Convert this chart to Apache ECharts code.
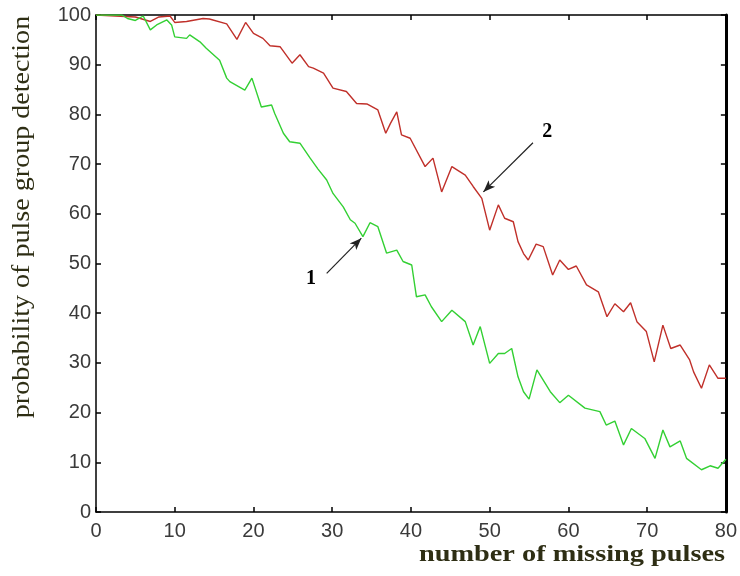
<!DOCTYPE html>
<html>
<head>
<meta charset="utf-8">
<script src="https://cdn.jsdelivr.net/npm/echarts@6/dist/echarts.min.js"></script>
<style>
  html, body { margin: 0; padding: 0; background: #fff; }
  #chart { width: 740px; height: 576px; }
</style>
</head>
<body>
<div id="chart"></div>
<script>
// Curve 1 (green): detection probability vs. number of missing pulses
const curve1X = [0,3.3,4,5,6,6.9,7.7,9,9.6,10,11.5,11.9,13.2,14,15.7,16.6,17,18.9,19.8,21,
  22.3,22.7,23.8,24.6,25.9,27.2,28.2,29.3,30.1,31.4,32.3,32.9,33.9,34.8,35.8,36.9,38.2,39,40.1,40.7,
  41.8,42.6,43.9,45.2,46.9,47.9,48.8,50,51.1,51.9,52.8,53.6,54.3,55,56,57.7,58.9,60,62.1,64,
  64.8,65.9,67,68,69.7,71,72,72.9,74.2,75,76.9,78,79,80];
const curve1Y = [100,100,99.3,98.9,99.8,97,98,99,98,95.6,95.3,96,94.6,93.3,90.9,87.3,86.6,84.9,87.3,81.5,
  81.9,80.2,76.2,74.5,74.2,71.2,69,66.8,64.1,61.4,58.8,58.1,55.4,58.2,57.4,52.1,52.7,50.4,49.7,43.3,
  43.7,41.3,38.3,40.6,38.3,33.6,37.3,29.9,31.9,31.9,32.9,27.2,24.2,22.7,28.6,24.2,22,23.5,20.9,20.2,
  17.5,18.3,13.5,16.8,14.8,10.8,16.5,13.1,14.3,10.8,8.5,9.3,8.8,10.6];

// Curve 2 (red)
const curve2X = [0,5,6.9,8,9.4,10,11.5,13.6,14.4,16.6,17.9,19,20,21.2,22.1,23.4,24.9,25.9,27,27.6,
  28.9,30.1,31.8,33.1,34.4,35.8,36.8,37.4,38.2,38.8,39.9,41.8,42.8,43.9,45.2,46.9,47.9,49,50,51.1,
  51.9,53,53.6,54.3,54.9,55.9,56.8,58,58.9,60,61,62.3,63.8,64.9,65.9,67,67.9,68.7,69.9,70.9,
  72,73,74.2,75.4,75.9,76.9,77.9,79,80];
const curve2Y = [100,99.6,98.7,99.6,99.8,98.5,98.7,99.3,99.2,98.2,95.1,98.5,96.3,95.3,93.8,93.6,90.3,92,89.6,89.3,
  88.3,85.3,84.6,82.2,82.1,80.9,76.2,78.2,80.5,75.9,75.2,69.5,71.2,64.4,69.5,67.8,65.5,63.1,56.7,61.8,
  59.1,58.4,54.4,52,50.7,53.9,53.4,47.7,50.7,48.8,49.5,45.7,44.3,39.3,41.9,40.3,42.1,38.3,36.3,30.2,
  37.6,32.9,33.6,30.6,28.2,24.9,29.6,26.9,26.9];

// Pointer annotations: label, tail point, head point, label anchor
const pointer1 = { text: '1', from: [29.3, 48.0], to: [33.7, 55.1], labelAt: [27.3, 47.0] };
const pointer2 = { text: '2', from: [55.5, 74.3], to: [49.2, 64.4], labelAt: [57.3, 76.4] };

const xTicks = [0, 80, 10];   // min, max, interval
const yTicks = [0, 100, 10];

const zip = (xs, ys) => xs.map((x, i) => [x, ys[i]]);

const tickFont = { fontFamily: 'Liberation Sans, Arial, sans-serif', fontSize: 20, color: '#3a3a3a' };
const axisLine = { show: true, onZero: false, lineStyle: { color: '#000', width: 1.5 } };
const tick = { show: true, inside: true, length: 5, lineStyle: { color: '#000', width: 1.5 } };
const serif = '"Liberation Serif", "Times New Roman", serif';

const chart = echarts.init(document.getElementById('chart'), null, { renderer: 'canvas' });

function pointerLine(p) {
  return [
    { coord: p.from, symbol: 'none' },
    { coord: p.to, symbol: 'arrow', symbolSize: [7, 12] }
  ];
}

function pointerLabel(p) {
  return {
    symbol: 'circle', symbolSize: 1, itemStyle: { color: 'rgba(0,0,0,0)' },
    label: { show: true, color: '#000', fontFamily: serif, fontSize: 20, fontWeight: 'bold', formatter: p.text },
    data: [{ coord: p.labelAt }]
  };
}

chart.setOption({
  animation: false,
  backgroundColor: '#fff',
  grid: { left: 96, right: 14, top: 15, bottom: 64 },
  xAxis: [
    {
      type: 'value', min: xTicks[0], max: xTicks[1], interval: xTicks[2],
      position: 'bottom', axisLine, axisTick: tick, splitLine: { show: false },
      axisLabel: Object.assign({ margin: 9 }, tickFont)
    },
    {
      type: 'value', min: xTicks[0], max: xTicks[1], interval: xTicks[2],
      position: 'top', axisLine, axisTick: tick, splitLine: { show: false },
      axisLabel: { show: false }
    }
  ],
  yAxis: [
    {
      type: 'value', min: yTicks[0], max: yTicks[1], interval: yTicks[2],
      position: 'left', axisLine, axisTick: tick, splitLine: { show: false },
      axisLabel: Object.assign({ margin: 5 }, tickFont)
    },
    {
      type: 'value', min: yTicks[0], max: yTicks[1], interval: yTicks[2],
      position: 'right', axisLine: { show: true, onZero: false, lineStyle: { color: '#000', width: 3 } },
      axisTick: tick, splitLine: { show: false }, axisLabel: { show: false }
    }
  ],
  series: [
    {
      name: '2', type: 'line', data: zip(curve2X, curve2Y), showSymbol: false,
      lineStyle: { color: '#c0302a', width: 1.4 }, z: 3,
      markLine: {
        silent: true, animation: false,
        lineStyle: { color: '#222', width: 1.2, type: 'solid' },
        label: { show: false },
        data: [pointerLine(pointer2)]
      },
      markPoint: pointerLabel(pointer2)
    },
    {
      name: '1', type: 'line', data: zip(curve1X, curve1Y), showSymbol: false,
      lineStyle: { color: '#33d033', width: 1.4 }, z: 4,
      markLine: {
        silent: true, animation: false,
        lineStyle: { color: '#222', width: 1.2, type: 'solid' },
        label: { show: false },
        data: [pointerLine(pointer1)]
      },
      markPoint: pointerLabel(pointer1)
    }
  ],
  graphic: [
    {
      type: 'text', x: 725, y: 555, scaleX: 1.18,
      style: {
        x: 0, y: 0,
        text: 'number of missing pulses',
        font: 'bold 24px ' + serif,
        fill: '#2e2e14', align: 'right', verticalAlign: 'middle'
      }
    },
    {
      type: 'text', x: 22, y: 217, rotation: Math.PI / 2, scaleX: 1.08,
      style: {
        x: 0, y: 0,
        text: 'probability of pulse group detection',
        font: '26px ' + serif,
        fill: '#2e2e14', align: 'center', verticalAlign: 'middle'
      }
    }
  ]
});
</script>
</body>
</html>
